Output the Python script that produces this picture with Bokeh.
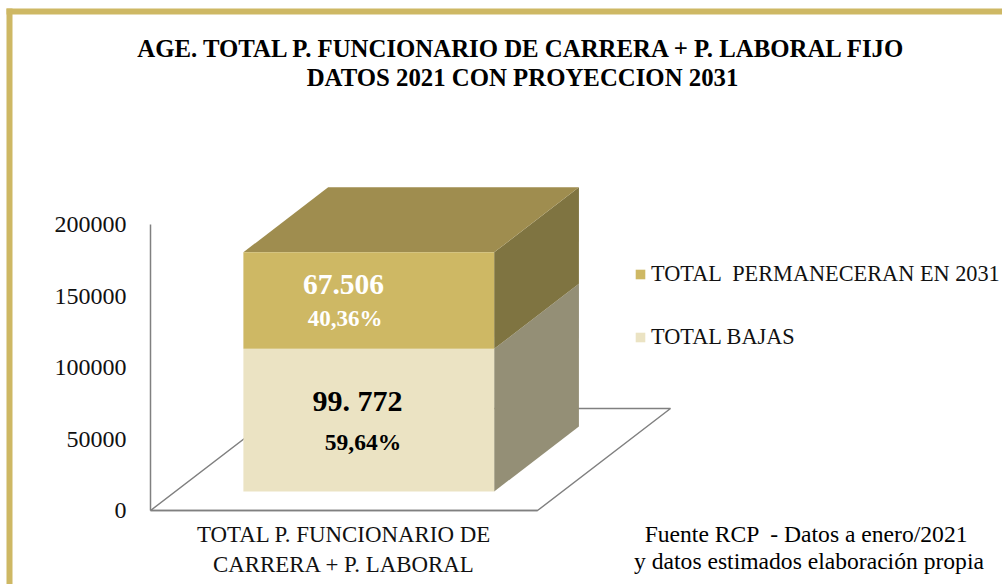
from bokeh.plotting import figure
from bokeh.models import Range1d, FixedTicker, Label, BoxAnnotation, Legend, LegendItem, LinearAxis
from bokeh.embed import file_html
from bokeh.resources import INLINE

categories = ["TOTAL P. FUNCIONARIO DE\nCARRERA + P. LABORAL"]
total_bajas = [99772]
total_permaneceran = [67506]
y_ticks = [0, 50000, 100000, 150000, 200000]
x_ticks = [0.5]
bar_value_labels = ["67.506", "40,36%", "99. 772", "59,64%"]
title_lines = ["AGE. TOTAL P. FUNCIONARIO DE CARRERA + P. LABORAL FIJO", "DATOS 2021 CON PROYECCION 2031"]
source_lines = ["Fuente RCP \u00a0- Datos a enero/2021", "y datos estimados elaboración propia"]
legend_labels = ["TOTAL  PERMANECERAN EN 2031", "TOTAL BAJAS"]

GOLD, CAP, GOLD_SIDE = "#CEB864", "#9F8D4F", "#7F7441"
PALE, PALE_SIDE = "#EBE3C3", "#948F76"
GRID = "#808080"
FONT = "Liberation Serif"

W, H = 1002, 584
X0, Y0 = 150, 510                   # canvas position of the axes' origin
PX_X, PX_Y = 387, 286 / 200000      # px per x-unit, px per value

p = figure(width=W, height=H, output_backend="svg", toolbar_location=None,
           x_axis_type=None, y_axis_type=None,
           x_range=Range1d(-X0 / PX_X, (W - X0) / PX_X),
           y_range=Range1d(-(H - Y0) / PX_Y, Y0 / PX_Y),
           min_border_left=0, min_border_right=0, min_border_top=0, min_border_bottom=0)
p.outline_line_color = None
p.background_fill_color = "white"

# oblique projection of the 3-D box (x, value, depth 0..1)
DX, DY = 133 / PX_X, 102 / PX_Y
def pr(x, v, z):
    return x + z * DX, v + z * DY

def face(corners, **kw):
    pts = [pr(*c) for c in corners]
    return p.patch([a for a, _ in pts], [b for _, b in pts], line_color=None, **kw)

# floor
fl = [pr(0, 0, 0), pr(1, 0, 0), pr(1, 0, 1), pr(0, 0, 1), pr(0, 0, 0)]
p.line([a for a, _ in fl], [b for _, b in fl], line_color=GRID, line_width=1.5)

x0, x1 = 0.5 - 0.324, 0.5 + 0.324
z0, z1 = 19 / 102, 84 / 102
v0, v1, v2 = 0, total_bajas[0], total_bajas[0] + total_permaneceran[0]

face([(x1, v0, z0), (x1, v0, z1), (x1, v1, z1), (x1, v1, z0)], fill_color=PALE_SIDE)
face([(x1, v1, z0), (x1, v1, z1), (x1, v2, z1), (x1, v2, z0)], fill_color=GOLD_SIDE)
face([(x0, v2, z0), (x1, v2, z0), (x1, v2, z1), (x0, v2, z1)], fill_color=CAP)
r_pale = face([(x0, v0, z0), (x1, v0, z0), (x1, v1, z0), (x0, v1, z0)], fill_color=PALE)
r_gold = face([(x0, v1, z0), (x1, v1, z0), (x1, v2, z0), (x0, v2, z0)], fill_color=GOLD)

# axes: fixed at the origin so that they take no panel space
yax = LinearAxis(ticker=FixedTicker(ticks=y_ticks), bounds=(0, 200000), fixed_location=0)
xax = LinearAxis(ticker=FixedTicker(ticks=x_ticks), bounds=(0, 1), fixed_location=0,
                 major_label_overrides={x_ticks[0]: categories[0]})
for ax in (xax, yax):
    ax.axis_line_color = GRID
    ax.axis_line_width = 1.5
    ax.major_tick_line_color = None
    ax.minor_tick_line_color = None
    ax.major_label_text_font = FONT
    ax.major_label_text_color = "#111111"
yax.major_label_text_font_size = "24px"
yax.major_label_standoff = 18
yax.formatter.use_scientific = False
xax.major_label_text_font_size = "22.9px"
xax.major_label_standoff = 5
p.add_layout(yax, "left")
p.add_layout(xax, "below")

# page frame
p.add_layout(BoxAnnotation(left=6, right=W, top=8, bottom=14, left_units="canvas", right_units="canvas",
                           top_units="canvas", bottom_units="canvas", fill_color=GOLD, fill_alpha=1,
                           line_color=None, level="overlay"))
p.add_layout(BoxAnnotation(left=6, right=12, top=8, bottom=H, left_units="canvas", right_units="canvas",
                           top_units="canvas", bottom_units="canvas", fill_color=GOLD, fill_alpha=1,
                           line_color=None, level="overlay"))

def lab(text, ix, iy, size, color="black", bold=False, align="center"):
    p.add_layout(Label(x=ix, y=iy, x_units="canvas", y_units="canvas", text=text,
                       text_font=FONT, text_font_size=f"{size}px", text_color=color,
                       text_font_style="bold" if bold else "normal",
                       text_align=align, text_baseline="middle"))

lab(title_lines[0], 522, 47.5, 24.8, bold=True)
lab(title_lines[1], 522, 76.5, 24.8, bold=True)
lab(bar_value_labels[0], 343, 284, 29.5, "white", True)
lab(bar_value_labels[1], 344.5, 318, 23, "white", True)
lab(bar_value_labels[2], 357, 400, 30, "black", True)
lab(bar_value_labels[3], 362.5, 441, 23.5, "black", True)
lab(source_lines[0], 806, 533, 23.6)
lab(source_lines[1], 808.5, 560, 23.6)

legend = Legend(items=[LegendItem(label=legend_labels[0], renderers=[r_gold]),
                       LegendItem(label=legend_labels[1], renderers=[r_pale])],
                location=(634, 234), orientation="vertical",
                background_fill_alpha=0, border_line_color=None, margin=0, padding=0,
                glyph_width=12, glyph_height=12, label_standoff=5, spacing=37, label_height=22,
                label_text_font=FONT, label_text_font_size="22.3px", label_text_color="#111111")
p.add_layout(legend)

open("out.html", "w").write(file_html(p, INLINE))
